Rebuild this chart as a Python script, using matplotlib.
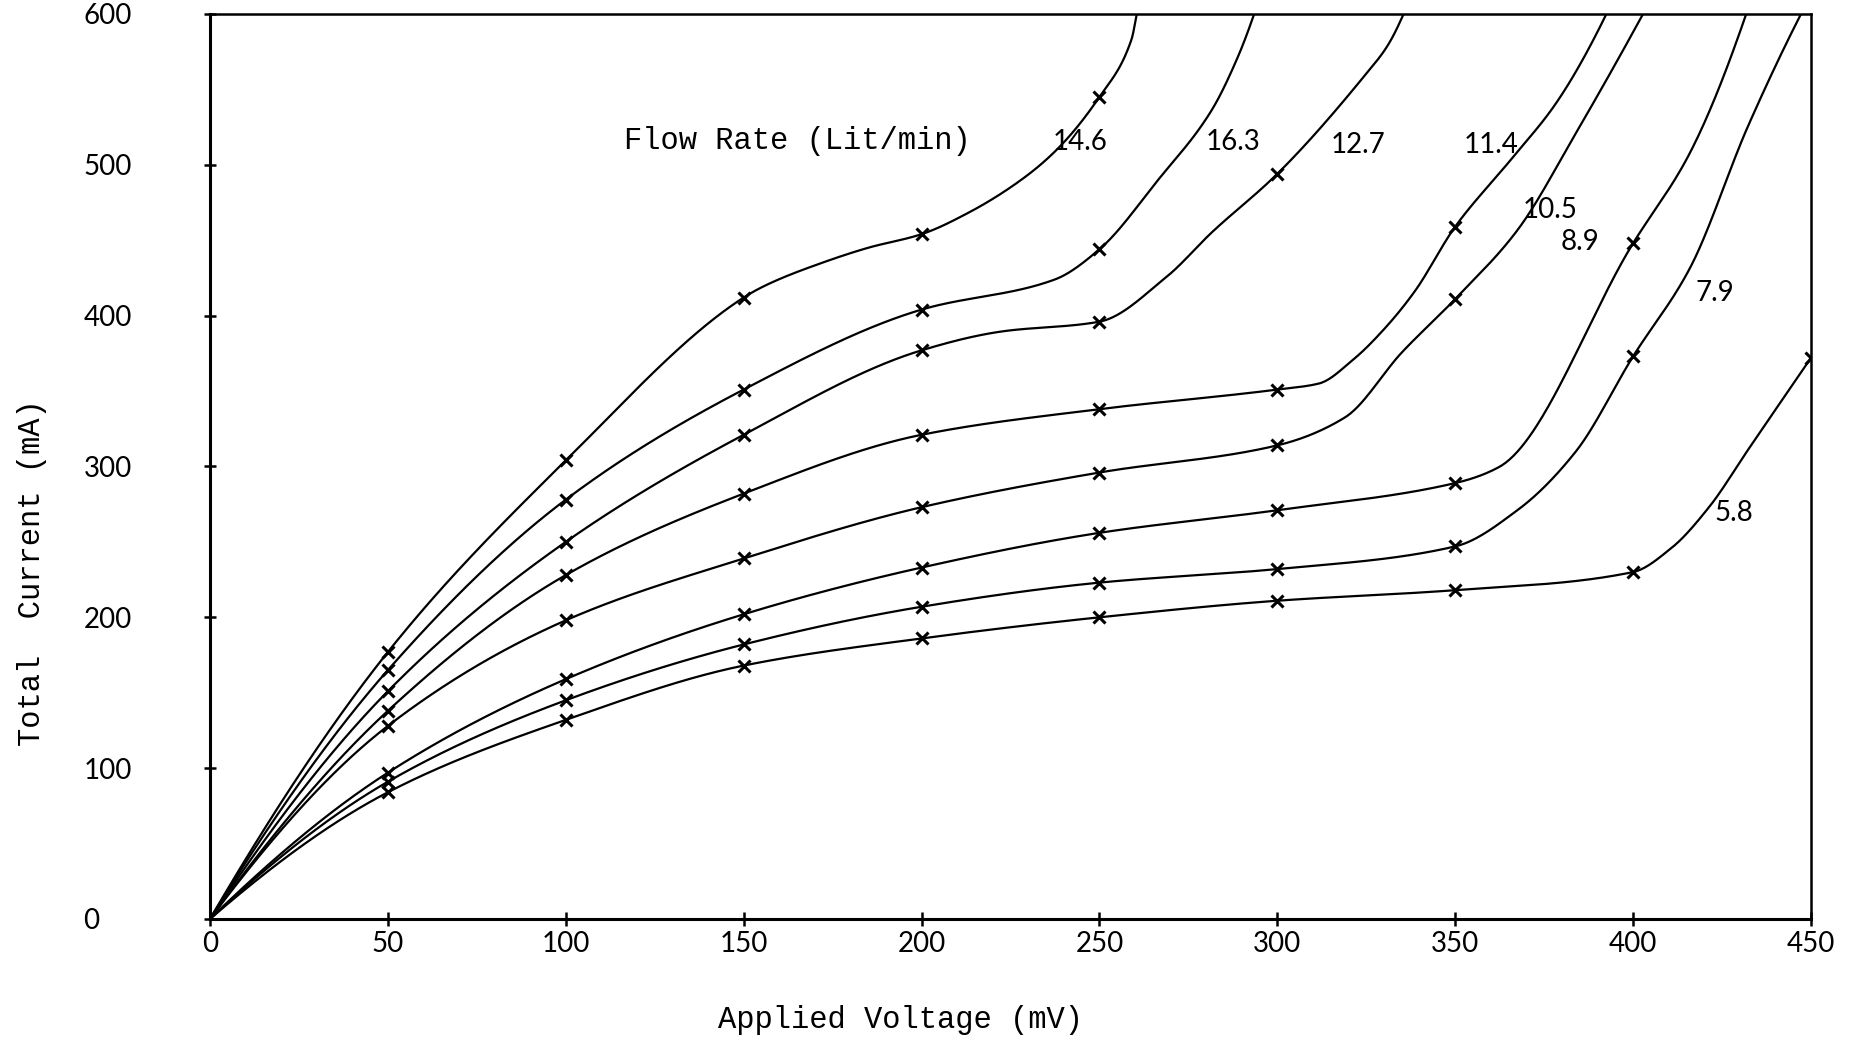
import matplotlib
matplotlib.use("Agg")
import matplotlib.pyplot as plt
import numpy as np

# applied voltage (mV) at which the readings were taken
VOLTAGES = [0, 50, 100, 150, 200, 250, 300, 350, 400, 450]

# measured total current (mA), one list per flow rate (Lit/min)
I_14_6 = [0, 177, 304, 412, 454, 545]
I_16_3 = [0, 165, 278, 351, 404, 444]
I_12_7 = [0, 151, 250, 321, 377, 396, 494]
I_11_4 = [0, 138, 228, 282, 321, 338, 351, 459]
I_10_5 = [0, 128, 198, 239, 273, 296, 314, 411]
I_8_9 = [0, 97, 159, 202, 233, 256, 271, 289, 448]
I_7_9 = [0, 91, 145, 182, 207, 223, 232, 247, 373]
I_5_8 = [0, 84, 132, 168, 186, 200, 211, 218, 230, 372]

# unmarked points (voltage, current)
TRACE_14_6_V = [157, 172, 185, 213, 228, 238, 259, 260.5]
TRACE_14_6_I = [421, 435, 445, 468, 490, 510, 583, 600]
TRACE_16_3_V = [237.5, 266.5, 281.5, 289, 293.5]
TRACE_16_3_I = [424, 490, 536, 572, 600]
TRACE_12_7_V = [222.5, 269, 281.5, 324.5, 331, 335.5]
TRACE_12_7_I = [389.5, 426, 455, 559, 579, 600]
TRACE_11_4_V = [311.7, 321.4, 330, 338.6, 365.5, 378.4, 392.5]
TRACE_11_4_I = [355, 371, 391, 416, 503, 541, 600]
TRACE_10_5_V = [319, 335, 367.6, 383.8, 402.8]
TRACE_10_5_I = [332.5, 375.6, 457, 520.5, 600]
TRACE_8_9_V = [362.3, 416, 431.8]
TRACE_8_9_I = [299.6, 508, 600]
TRACE_7_9_V = [367.7, 383.8, 416, 432.3, 447.2]
TRACE_7_9_I = [271.4, 309.6, 431.6, 525.6, 600]
TRACE_5_8_V = [410.8, 421.5, 432.3]
TRACE_5_8_I = [246, 273.5, 311]

FLOW_RATES = ["14.6", "16.3", "12.7", "11.4", "10.5", "8.9", "7.9", "5.8"]
X_TICKS = [0, 50, 100, 150, 200, 250, 300, 350, 400, 450]
Y_TICKS = [0, 100, 200, 300, 400, 500, 600]


def pchip(x, y, xs):
    """Monotone cubic (Fritsch-Carlson) through the read points."""
    x = np.asarray(x, float)
    y = np.asarray(y, float)
    h = np.diff(x)
    d = np.diff(y) / h
    m = np.zeros_like(y)
    for k in range(1, len(x) - 1):
        if d[k - 1] * d[k] > 0:
            w1 = 2 * h[k] + h[k - 1]
            w2 = h[k] + 2 * h[k - 1]
            m[k] = (w1 + w2) / (w1 / d[k - 1] + w2 / d[k])
    m0 = ((2 * h[0] + h[1]) * d[0] - h[0] * d[1]) / (h[0] + h[1])
    m[0] = m0 if np.sign(m0) == np.sign(d[0]) else 0.0
    mn = ((2 * h[-1] + h[-2]) * d[-1] - h[-1] * d[-2]) / (h[-1] + h[-2])
    m[-1] = mn if np.sign(mn) == np.sign(d[-1]) else 0.0
    idx = np.clip(np.searchsorted(x, xs) - 1, 0, len(x) - 2)
    t = (xs - x[idx]) / h[idx]
    h00 = 2 * t**3 - 3 * t**2 + 1
    h10 = t**3 - 2 * t**2 + t
    h01 = -2 * t**3 + 3 * t**2
    h11 = t**3 - t**2
    return h00 * y[idx] + h10 * h[idx] * m[idx] + h01 * y[idx + 1] + h11 * h[idx] * m[idx + 1]


curves = [
    (I_14_6, TRACE_14_6_V, TRACE_14_6_I),
    (I_16_3, TRACE_16_3_V, TRACE_16_3_I),
    (I_12_7, TRACE_12_7_V, TRACE_12_7_I),
    (I_11_4, TRACE_11_4_V, TRACE_11_4_I),
    (I_10_5, TRACE_10_5_V, TRACE_10_5_I),
    (I_8_9, TRACE_8_9_V, TRACE_8_9_I),
    (I_7_9, TRACE_7_9_V, TRACE_7_9_I),
    (I_5_8, TRACE_5_8_V, TRACE_5_8_I),
]

# where each flow-rate number sits (left edge, centre line), in data units
label_pos = [(237, 515), (280, 515), (315, 513), (352.5, 513),
             (369, 470), (379.5, 449), (417.5, 415), (423, 269)]

mono = "Liberation Mono"
thin = ["Lato", "DejaVu Sans"]

fig = plt.figure(figsize=(18.5, 10.43), dpi=100)
ax = fig.add_axes([0.1135, 0.1189, 0.8654, 0.8677])

for marks, tv, ti in curves:
    mv = VOLTAGES[:len(marks)]
    px = np.concatenate([mv, tv])
    py = np.concatenate([marks, ti])
    order = np.argsort(px)
    px, py = px[order], py[order]
    xs = np.linspace(px[0], px[-1], 800)
    ax.plot(xs, pchip(px, py, xs), color="black", lw=1.6, solid_capstyle="round")
    ax.plot(mv[1:], marks[1:], ls="none", marker="x", ms=9, mew=2.2, color="black")

for name, (lx, ly) in zip(FLOW_RATES, label_pos):
    ax.text(lx, ly, name, fontsize=20, family=thin, ha="left", va="center")

ax.text(116.5, 516, "Flow Rate (Lit/min)", fontsize=22, family=mono,
        ha="left", va="center")

ax.set_xlim(0, 450)
ax.set_ylim(0, 600)
ax.set_xticks(X_TICKS)
ax.set_yticks(Y_TICKS)
ax.set_xticklabels([str(v) for v in X_TICKS], family=thin, fontsize=20)
ax.set_yticklabels([str(v) for v in Y_TICKS], family=thin, fontsize=20, ha="left")
ax.tick_params(axis="x", direction="inout", length=10, width=1.8, pad=4)
ax.tick_params(axis="y", direction="inout", length=8, width=1.8, pad=87)

for side, lw in (("left", 2.2), ("bottom", 2.2), ("top", 1.8), ("right", 1.8)):
    ax.spines[side].set_linewidth(lw)

ax.set_xlabel("Applied Voltage (mV)", fontsize=22, family=mono)
ax.xaxis.set_label_coords(0.431, -0.095)
ax.set_ylabel("Total  Current (mA)", fontsize=22, family=mono)
ax.yaxis.label.set_va("center")
ax.yaxis.set_label_coords(-0.111, 0.383)

fig.savefig("out.png", dpi=100)
